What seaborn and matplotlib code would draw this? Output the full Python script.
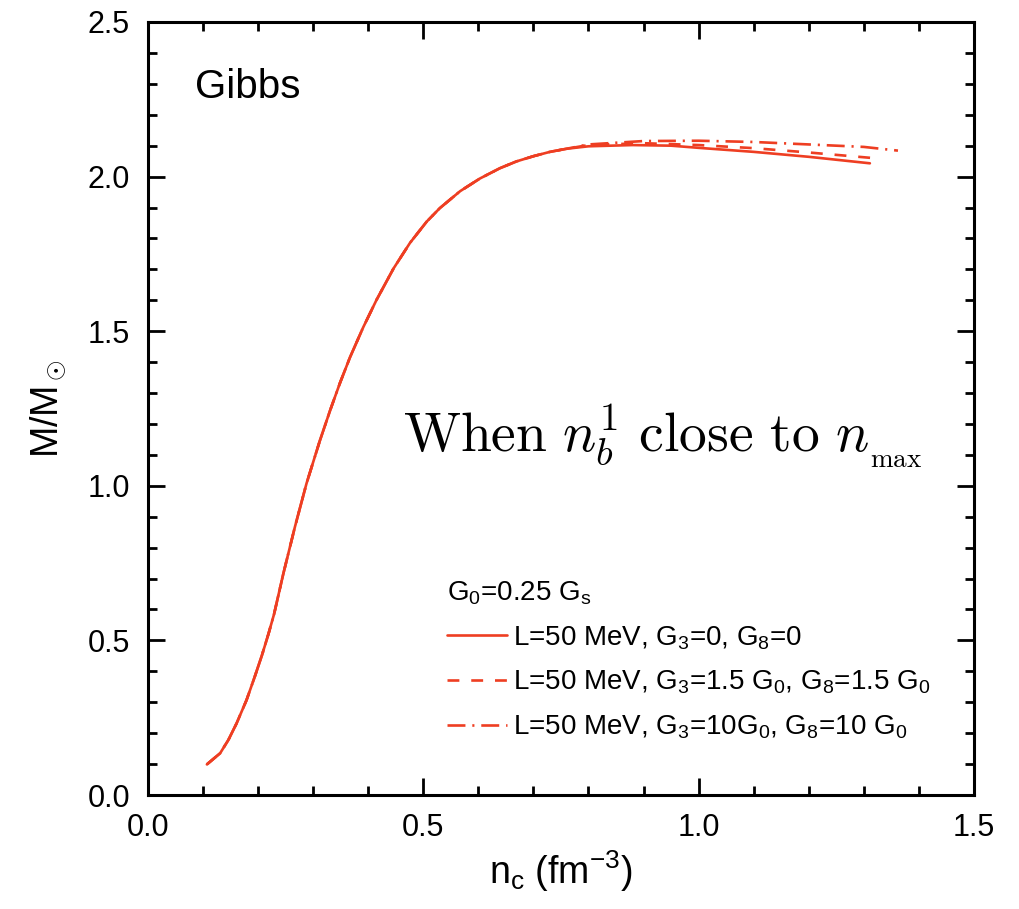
import numpy as np
import pandas as pd
import matplotlib
matplotlib.use("Agg")
import matplotlib.pyplot as plt
from matplotlib.ticker import MultipleLocator
import seaborn as sns

# shared part of the M-R curve (all three parameter sets overlap here)
nc_common = [0.107, 0.131, 0.146, 0.161, 0.179, 0.194, 0.207, 0.219, 0.229, 0.246,
             0.267, 0.288, 0.312, 0.331, 0.349, 0.367, 0.391, 0.415, 0.446, 0.476,
             0.506, 0.530, 0.567, 0.603, 0.639, 0.669, 0.700, 0.730, 0.760]
m_common = [0.099, 0.135, 0.178, 0.232, 0.307, 0.383, 0.452, 0.522, 0.585, 0.717,
            0.868, 1.008, 1.145, 1.245, 1.334, 1.416, 1.513, 1.601, 1.703, 1.786,
            1.854, 1.898, 1.953, 1.994, 2.027, 2.049, 2.066, 2.080, 2.090]

# high-density tails, where the curves split
nc_tail_a = [0.80, 0.88, 0.95, 1.00, 1.10, 1.20, 1.311]
m_tail_a = [2.098, 2.102, 2.100, 2.093, 2.080, 2.064, 2.043]
nc_tail_b = [0.80, 0.90, 1.00, 1.10, 1.20, 1.323]
m_tail_b = [2.102, 2.108, 2.102, 2.092, 2.078, 2.059]
nc_tail_c = [0.80, 0.90, 1.00, 1.10, 1.20, 1.30, 1.362]
m_tail_c = [2.104, 2.115, 2.116, 2.112, 2.104, 2.096, 2.084]

labels = [r"L=50 MeV, G$_3$=0, G$_8$=0",
          r"L=50 MeV, G$_3$=1.5 G$_0$, G$_8$=1.5 G$_0$",
          r"L=50 MeV, G$_3$=10G$_0$, G$_8$=10 G$_0$"]
legend_title = r"G$_0$=0.25 G$_\mathrm{s}$"

series = [(nc_tail_a, m_tail_a, "-"),
          (nc_tail_b, m_tail_b, (0, (4.5, 4.5))),
          (nc_tail_c, m_tail_c, (0, (6.8, 2.6, 0.8, 2.6)))]

sns.set_style("ticks")
plt.rcParams["font.family"] = ["Liberation Sans", "DejaVu Sans"]
plt.rcParams["mathtext.fontset"] = "custom"
plt.rcParams["mathtext.rm"] = "Liberation Sans"
plt.rcParams["mathtext.it"] = "Liberation Sans:italic"
plt.rcParams["mathtext.bf"] = "Liberation Sans:bold"
plt.rcParams["text.color"] = "black"
plt.rcParams["axes.labelcolor"] = "black"

red = "#EE3E22"

fig = plt.figure(figsize=(10.19, 9.09), dpi=100)
ax = fig.add_axes([0.1452, 0.1254, 0.8106, 0.8504])

for (nx, my, ls), lab in zip(series, labels):
    df = pd.DataFrame({"nc": nc_common + nx, "M": m_common + my})
    sns.lineplot(data=df, x="nc", y="M", ax=ax, color=red, linewidth=1.9,
                 linestyle=ls, estimator=None, sort=False, label=lab)

ax.set_xlim(0, 1.5)
ax.set_ylim(0, 2.5)
ax.xaxis.set_major_locator(MultipleLocator(0.5))
ax.xaxis.set_minor_locator(MultipleLocator(0.1))
ax.yaxis.set_major_locator(MultipleLocator(0.5))
ax.yaxis.set_minor_locator(MultipleLocator(0.1))
ax.tick_params(which="both", direction="in", top=True, right=True, width=2,
               labelsize=22, pad=13, colors="black")
ax.tick_params(which="major", length=12.5)
ax.tick_params(which="minor", length=6.5)
for s in ax.spines.values():
    s.set_linewidth(2.2)
    s.set_color("black")

ax.set_xlabel(r"n$_\mathrm{c}$ (fm$^{-3}$)", fontsize=27, labelpad=4)
ax.set_ylabel(r"M/M$_\odot$", fontsize=27, labelpad=14)

ax.text(0.057, 0.902, "Gibbs", transform=ax.transAxes, fontsize=29)
ax.text(0.309, 0.444, r"$\mathrm{When}\ n_b^1\ \mathrm{close\ to}\ n_{_{\max}}$",
        transform=ax.transAxes, fontsize=40, math_fontfamily="cm")

leg = ax.legend(title=legend_title, loc="upper left",
                bbox_to_anchor=(428 / 1019, 1 - 560 / 909),
                bbox_transform=fig.transFigure, frameon=False, fontsize=20,
                title_fontsize=20, alignment="left", handlelength=2.15,
                handletextpad=0.2, labelspacing=0.62, borderpad=0.2)

fig.savefig("out.png", dpi=100)
